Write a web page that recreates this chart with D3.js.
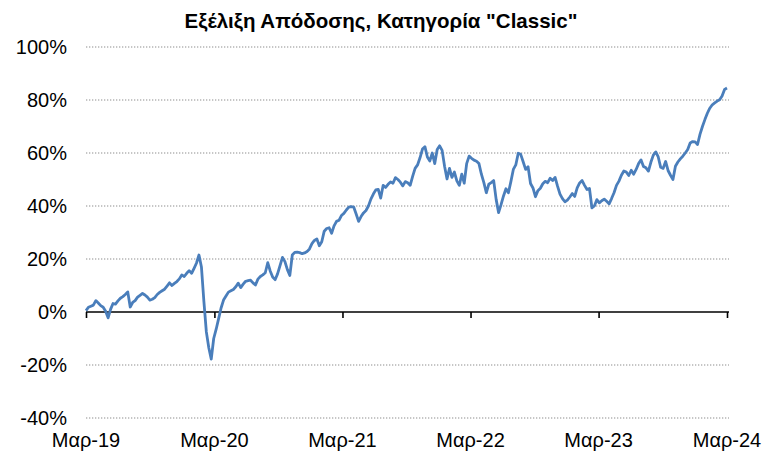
<!DOCTYPE html>
<html><head><meta charset="utf-8">
<script src="https://cdn.jsdelivr.net/npm/d3@7"></script>
<style>body{margin:0;background:#fff;} svg{display:block;}</style>
</head><body><div id="chart"></div>
<script>
const title = 'Εξέλιξη Απόδοσης, Κατηγορία "Classic"';
const startDate = new Date(2019, 2, 29);
const weekStepDays = 7;
const tickLabels = ["Μαρ-19","Μαρ-20","Μαρ-21","Μαρ-22","Μαρ-23","Μαρ-24"];
const yTicks = [-0.4,-0.2,0,0.2,0.4,0.6,0.8,1.0];
const returns = [
0.5,1.8,2.2,2.6,4.3,3.4,2.4,1.8,0.3,-2.2,1.0,3.2,3.0,4.2,5.2,5.8,6.6,7.6,1.9,3.6,
4.3,5.6,6.3,7.0,6.4,5.6,4.5,4.8,5.4,6.6,7.4,8.0,8.6,9.8,11.0,10.0,10.8,11.5,12.5,14.0,
13.4,14.6,15.6,14.6,16.5,18.5,21.5,17.0,4.0,-7.5,-13.5,-17.8,
-10.0,-6.5,-2.5,1.5,4.5,6.0,7.5,8.0,8.5,9.5,10.9,9.2,10.5,11.6,11.8,12.0,11.0,10.2,
12.4,13.4,14.0,14.8,18.6,15.5,13.2,12.2,14.4,17.5,20.6,19.0,16.0,13.8,21.5,22.5,22.6,22.4,
22.0,22.3,22.8,23.8,25.8,27.0,27.6,25.0,26.5,30.5,31.5,31.8,29.7,32.5,34.2,34.6,
36.4,37.2,38.5,39.6,39.8,39.6,37.0,34.2,36.0,37.4,38.3,40.0,42.6,44.5,46.1,46.3,43.0,47.8,
47.0,48.2,49.1,48.6,50.7,50.0,49.0,47.6,49.2,48.8,47.8,51.2,54.2,55.5,58.2,61.5,62.4,58.5,
57.0,60.0,56.0,61.3,62.7,61.0,55.0,50.2,54.2,50.8,52.8,49.5,47.8,52.0,48.6,56.0,
58.8,58.0,57.3,56.9,56.0,52.0,48.8,45.0,48.2,48.8,49.6,42.5,37.5,40.5,43.8,46.5,45.0,49.2,
53.8,55.5,59.9,59.5,56.7,53.8,54.8,48.5,46.8,43.5,45.8,46.7,48.4,49.3,48.8,50.5,49.6,50.8,
47.5,44.5,42.8,41.6,42.2,43.4,44.7,43.6,46.8,48.7,49.6,47.8,46.2,46.6,39.3,40.0,
42.4,41.2,42.0,42.6,41.8,40.8,42.8,45.0,47.8,49.4,51.6,53.2,52.8,51.5,53.5,52.0,53.8,56.0,
57.4,54.9,54.4,53.2,56.5,59.2,60.4,58.5,54.6,54.2,56.8,53.4,51.6,50.0,55.0,56.6,57.8,58.8,
60.0,61.3,63.8,64.3,64.2,63.2,67.0,70.0,72.6,75.0,76.9,78.2,78.9,79.6,80.1,81.5,84.0,84.5
];

const W = 764, H = 452;
const svg = d3.select("#chart").append("svg").attr("width", W).attr("height", H);
const font = "'Liberation Sans', Arial, sans-serif";

const data = returns.map((v, i) => ({ date: d3.timeDay.offset(startDate, i * weekStepDays), value: v / 100 }));
const tickDates = tickLabels.map((_, k) => d3.timeYear.offset(startDate, k));

const x = d3.scaleTime().domain([startDate, tickDates[tickDates.length - 1]]).range([86, 727]);
const y = d3.scaleLinear().domain([-0.4, 1.0]).range([418, 47]);

// gridlines
svg.append("g").selectAll("line").data(yTicks.filter(t => t !== 0)).join("line")
  .attr("x1", 86).attr("x2", 729)
  .attr("y1", d => y(d)).attr("y2", d => y(d))
  .attr("stroke", "#b4b4b4").attr("stroke-width", 1.3).attr("stroke-dasharray", "1.3,1.7");

// y labels (hyphen minus as in the reference)
svg.append("g").selectAll("text").data(yTicks).join("text")
  .attr("x", 67).attr("y", d => y(d) + 7)
  .attr("text-anchor", "end").attr("font-family", font).attr("font-size", 20)
  .attr("fill", "#000").text(d => Math.round(d * 100) + "%");

// x axis at 0
const xAxis = d3.axisBottom(x).tickValues(tickDates).tickSize(6).tickFormat("");
const gx = svg.append("g").attr("transform", `translate(0,${y(0)})`).call(xAxis);
gx.select(".domain").attr("stroke", "#000").attr("stroke-width", 1.6).attr("d", `M86,0H729`);
gx.selectAll(".tick line").attr("stroke", "#000").attr("stroke-width", 1.6);

// x labels
svg.append("g").selectAll("text").data(tickDates).join("text")
  .attr("x", d => x(d)).attr("y", 447)
  .attr("text-anchor", "middle").attr("font-family", font).attr("font-size", 20)
  .attr("fill", "#000").text((d, i) => tickLabels[i]);

// line
const line = d3.line().x(d => x(d.date)).y(d => y(d.value));
svg.append("path").datum(data).attr("d", line)
  .attr("fill", "none").attr("stroke", "#4a7ebb").attr("stroke-width", 2.8)
  .attr("stroke-linejoin", "round");

// title
svg.append("text").attr("x", 381).attr("y", 28).attr("text-anchor", "middle")
  .attr("font-family", font).attr("font-weight", "bold").attr("font-size", 20.5)
  .attr("fill", "#000").text(title);
</script></body></html>
